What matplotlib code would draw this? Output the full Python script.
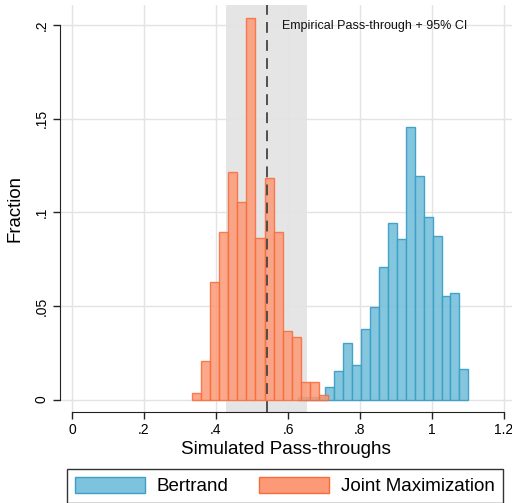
import matplotlib
matplotlib.use("Agg")
import matplotlib.pyplot as plt
from matplotlib.patches import Patch

plt.rcParams['font.family'] = ['Liberation Sans', 'DejaVu Sans']

# Bin settings (data units)
jm_start = 0.3325
jm_width = 0.0253
jm_heights = [0.0033, 0.0206, 0.0626, 0.0893, 0.1217, 0.1056, 0.2039, 0.0864,
              0.1185, 0.0893, 0.0366, 0.0334, 0.0092, 0.0092, 0.0024]

bt_start = 0.628
bt_width = 0.0249
bt_heights = [0.0013, 0.0013, 0.0013, 0.0065, 0.0154, 0.0303, 0.0184, 0.0375,
              0.0496, 0.0706, 0.0944, 0.0855, 0.1457, 0.1195, 0.0976, 0.0875,
              0.0554, 0.0567, 0.0164]

empirical = 0.541
ci_low, ci_high = 0.428, 0.654

xticks = [0, 0.2, 0.4, 0.6, 0.8, 1.0, 1.2]
xticklabels = ['0', '.2', '.4', '.6', '.8', '1', '1.2']
yticks = [0, 0.05, 0.1, 0.15, 0.2]
yticklabels = ['0', '.05', '.1', '.15', '.2']

W, H = 512, 503
fig = plt.figure(figsize=(W / 100, H / 100), dpi=100)
left_px, right_px, top_px, bottom_px = 60, 512, 5, 412
ax = fig.add_axes([left_px / W, 1 - bottom_px / H, (right_px - left_px) / W, (bottom_px - top_px) / H])

# axis limits from pixel mapping
x0_px, xscale = 72, 360.0
y0_px, yscale = 399.5, 1872.5
ax.set_xlim((left_px - x0_px) / xscale, (right_px - x0_px) / xscale)
ax.set_ylim((y0_px - bottom_px) / yscale, (y0_px - top_px) / yscale)

ax.axvspan(ci_low, ci_high, color='#e5e5e5', zorder=0, lw=0)
ax.grid(True, color='#e3e3e3', lw=1.0, zorder=0.5)
ax.set_axisbelow(True)

bt_x = [bt_start + i * bt_width for i in range(len(bt_heights))]
jm_x = [jm_start + i * jm_width for i in range(len(jm_heights))]
ax.bar(bt_x, bt_heights, width=bt_width, align='edge', color='#7DC3DD',
       edgecolor='#3D9FC7', lw=1.0, alpha=0.95, zorder=2)
ax.bar(jm_x, jm_heights, width=jm_width, align='edge', color='#FC9A77',
       edgecolor='#F86B3A', lw=1.0, alpha=0.85, zorder=3)

ax.axvline(empirical, color='#444444', lw=1.3, ls=(0, (6, 4)), zorder=4)
ax.text(0.583, 0.1995, 'Empirical Pass-through + 95% CI', fontsize=9,
        va='center', ha='left', color='#111111', zorder=5)

for s in ['top', 'right']:
    ax.spines[s].set_visible(False)
ax.spines['left'].set_bounds(0, 0.2)
ax.spines['bottom'].set_bounds(0, 1.2)
ax.spines['left'].set_color('#222222')
ax.spines['bottom'].set_color('#222222')

ax.set_xticks(xticks)
ax.set_xticklabels(xticklabels, fontsize=10)
ax.set_yticks(yticks)
ax.set_yticklabels(yticklabels, fontsize=10, rotation=90, va='center')
ax.tick_params(length=5, width=1, color='#222222', pad=3)

ax.set_xlabel('Simulated Pass-throughs', fontsize=13.6, labelpad=3)
ax.set_ylabel('Fraction', fontsize=13.4, labelpad=8)

fs = 13.5
fpx = fs * 100 / 72
handles = [Patch(facecolor='#7DC3DD', edgecolor='#3D9FC7', lw=1.0),
           Patch(facecolor='#FC9A77', edgecolor='#F86B3A', lw=1.0)]
leg = fig.legend(handles, ['Bertrand', 'Joint Maximization'], ncol=2,
                 loc='upper left', bbox_to_anchor=(67 / W, 1 - 469 / H),
                 fontsize=fs, frameon=True, fancybox=False, edgecolor='black',
                 handlelength=70 / fpx, handleheight=0.9, handletextpad=12 / fpx,
                 columnspacing=30 / fpx, borderpad=8 / fpx, borderaxespad=0)
leg.get_frame().set_linewidth(1.0)

fig.savefig('out.png', dpi=100)
